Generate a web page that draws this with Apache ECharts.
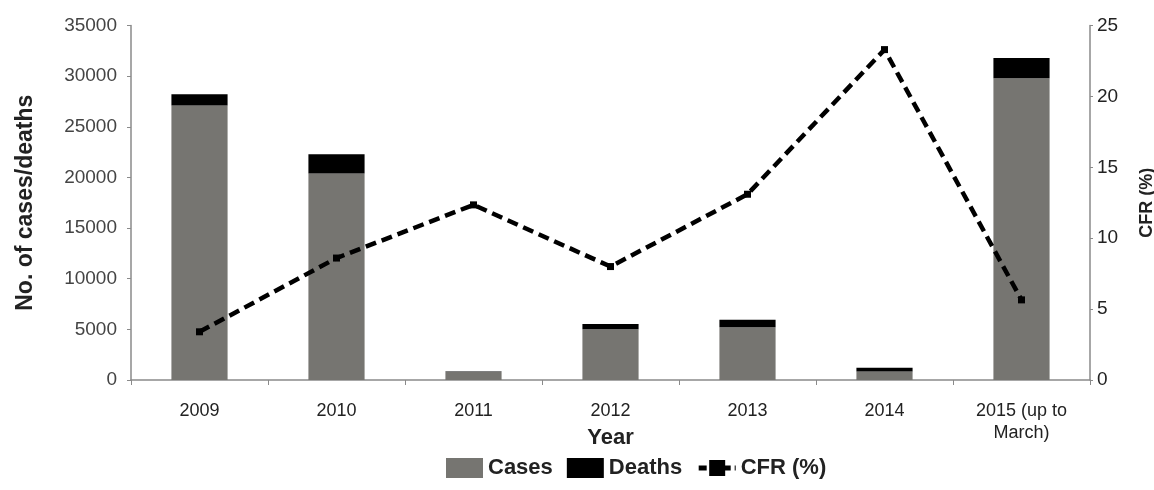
<!DOCTYPE html>
<html>
<head>
<meta charset="utf-8">
<script src="https://cdn.jsdelivr.net/npm/echarts@6/dist/echarts.min.js"></script>
<style>
  html, body { margin: 0; padding: 0; background: #fff; }
  #chart { width: 1154px; height: 490px; }
</style>
</head>
<body>
<div id="chart"></div>
<script>
// data
const years = ['2009', '2010', '2011', '2012', '2013', '2014', '2015 (up to\nMarch)']
const cases = [27100, 20400, 780, 5000, 5200, 830, 29800]
const deaths = [1100, 1900, 60, 520, 750, 380, 2000]
const cfr = [3.4, 8.6, 12.35, 8.0, 13.1, 23.3, 5.65]

const font = '"Liberation Sans", Arial, sans-serif'
const axisGray = '#8a8a8a'

const chart = echarts.init(document.getElementById('chart'))

const option = {
  backgroundColor: '#fff',
  animation: false,
  grid: { left: 131, right: 64, top: 25.5, bottom: 110, outerBoundsMode: 'none', containLabel: false },
  legend: {
    bottom: 6,
    left: 441,
    itemGap: 14,
    itemWidth: 37,
    itemHeight: 20,
    textStyle: { fontFamily: font, fontSize: 22, fontWeight: 'bold', color: '#222' },
    data: [
      { name: 'Cases', icon: 'rect' },
      { name: 'Deaths', icon: 'rect' },
      { name: 'CFR (%)', lineStyle: { width: 5, type: [8, 4] } }
    ]
  },
  xAxis: {
    type: 'category',
    data: years,
    name: 'Year',
    nameLocation: 'middle',
    nameGap: 47,
    nameMoveOverlap: false,
    nameTextStyle: { fontFamily: font, fontSize: 22, fontWeight: 'bold', color: '#222' },
    axisLine: { lineStyle: { color: axisGray, width: 1.5 } },
    axisTick: { show: true, length: 5, lineStyle: { color: axisGray } },
    axisLabel: { fontFamily: font, fontSize: 18, color: '#222', margin: 20, lineHeight: 22 }
  },
  yAxis: [
    {
      type: 'value',
      min: 0,
      max: 35000,
      interval: 5000,
      name: 'No. of cases/deaths',
      nameLocation: 'middle',
      nameGap: 94,
      nameMoveOverlap: false,
      nameRotate: 90,
      nameTextStyle: { fontFamily: font, fontSize: 23, fontWeight: 'bold', color: '#222' },
      axisLine: { show: true, lineStyle: { color: axisGray, width: 1.5 } },
      axisTick: { show: true, length: 4, lineStyle: { color: axisGray } },
      axisLabel: { fontFamily: font, fontSize: 19, color: '#444', margin: 14, formatter: v => String(v) },
      splitLine: { show: false }
    },
    {
      type: 'value',
      min: 0,
      max: 25,
      interval: 5,
      position: 'right',
      name: 'CFR (%)',
      nameLocation: 'middle',
      nameGap: 48,
      nameMoveOverlap: false,
      nameRotate: 90,
      nameTextStyle: { fontFamily: font, fontSize: 18, fontWeight: 'bold', color: '#222' },
      axisLine: { show: true, lineStyle: { color: axisGray, width: 1.5 } },
      axisTick: { show: true, length: 3, lineStyle: { color: axisGray } },
      axisLabel: { fontFamily: font, fontSize: 19, color: '#222', margin: 7 },
      splitLine: { show: false }
    }
  ],
  series: [
    {
      name: 'Cases',
      type: 'bar',
      stack: 'total',
      barWidth: '41%',
      itemStyle: { color: '#767571' },
      data: cases
    },
    {
      name: 'Deaths',
      type: 'bar',
      stack: 'total',
      barWidth: '41%',
      itemStyle: { color: '#000' },
      data: deaths
    },
    {
      name: 'CFR (%)',
      type: 'line',
      yAxisIndex: 1,
      symbol: 'rect',
      symbolSize: 7,
      itemStyle: { color: '#000' },
      lineStyle: { color: '#000', width: 4.5, type: [11, 6] },
      data: cfr
    }
  ]
}

chart.setOption(option)
</script>
</body>
</html>
